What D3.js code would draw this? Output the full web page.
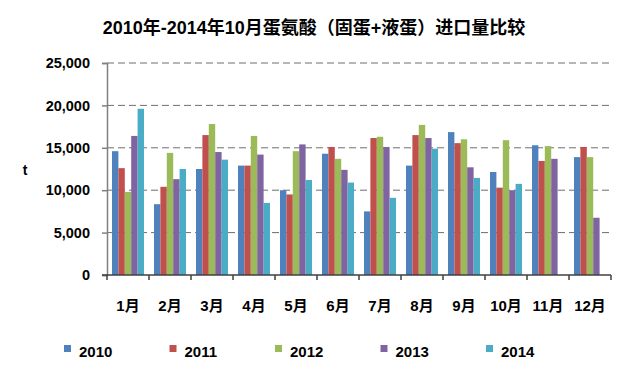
<!DOCTYPE html>
<html>
<head>
<meta charset="utf-8">
<script src="https://cdn.jsdelivr.net/npm/d3@7"></script>
<style>
  body { margin: 0; background: #fff; }
  text { font-family: "Liberation Sans", "Noto Sans CJK SC", sans-serif; font-weight: bold; fill: #000; }
</style>
</head>
<body>
<div id="chart"></div>
<script>
// 2010-2014 蛋氨酸进口量, 单位 t
var months = ["1月", "2月", "3月", "4月", "5月", "6月", "7月", "8月", "9月", "10月", "11月", "12月"];
var years = ["2010", "2011", "2012", "2013", "2014"];
var v2010 = [14600, 8350, 12500, 12900, 10000, 14300, 7500, 12900, 16850, 12150, 15300, 13900];
var v2011 = [12600, 10400, 16500, 12900, 9500, 15100, 16150, 16500, 15550, 10300, 13450, 15100];
var v2012 = [9800, 14400, 17800, 16400, 14600, 13700, 16300, 17700, 16000, 15900, 15200, 13900];
var v2013 = [16400, 11300, 14500, 14200, 15400, 12400, 15100, 16150, 12700, 10000, 13700, 6750];
var v2014 = [19600, 12500, 13600, 8500, 11200, 10900, 9100, 14900, 11450, 10750, null, null];
var colors = ["#4F81BD", "#C0504D", "#9BBB59", "#8064A2", "#4BACC6"];
var yTicks = [0, 5000, 10000, 15000, 20000, 25000];

var series = [v2010, v2011, v2012, v2013, v2014];

var width = 628, height = 374;
var margin = {top: 63, right: 17, bottom: 99, left: 107};
var chartWidth = width - margin.left - margin.right;
var chartHeight = height - margin.top - margin.bottom;

var svg = d3.select("#chart").append("svg")
  .attr("width", width)
  .attr("height", height);

svg.append("text")
  .attr("x", 314)
  .attr("y", 34)
  .attr("text-anchor", "middle")
  .attr("font-size", "18px")
  .attr("font-weight", "900")
  .attr("font-family", "'Noto Sans CJK SC', sans-serif")
  .text("2010年-2014年10月蛋氨酸（固蛋+液蛋）进口量比较");

var chartGroup = svg.append("g")
  .attr("transform", `translate(${margin.left}, ${margin.top})`);

var yScale = d3.scaleLinear()
  .domain([0, 25000])
  .range([chartHeight, 0]);

var xScale = d3.scaleBand()
  .domain(months)
  .range([0, chartWidth]);

var xInner = d3.scaleBand()
  .domain(years)
  .range([0, xScale.bandwidth()])
  .paddingOuter(0.78);

// gridlines
chartGroup.selectAll(".grid")
  .data(yTicks.filter(d => d > 0))
  .enter()
  .append("line")
  .attr("x1", 0)
  .attr("x2", chartWidth)
  .attr("y1", d => yScale(d))
  .attr("y2", d => yScale(d))
  .attr("stroke", "#6e6e6e")
  .attr("stroke-width", 1)
  .attr("stroke-dasharray", "7,4");

// bars
years.forEach(function(yr, k) {
  chartGroup.selectAll(".bar" + yr)
    .data(series[k].map((v, i) => ({m: months[i], v: v})).filter(d => d.v != null))
    .enter()
    .append("rect")
    .attr("x", d => xScale(d.m) + xInner(yr))
    .attr("y", d => yScale(d.v))
    .attr("width", xInner.bandwidth())
    .attr("height", d => chartHeight - yScale(d.v))
    .attr("fill", colors[k]);
});

var yAxis = d3.axisLeft(yScale)
  .tickValues(yTicks)
  .tickSize(5)
  .tickPadding(12)
  .tickFormat(d3.format(","));

var yAxisG = chartGroup.append("g").call(yAxis);
yAxisG.select(".domain").attr("stroke", "#808080").attr("stroke-width", 1.5);
yAxisG.selectAll(".tick line").attr("stroke", "#808080").attr("stroke-width", 1.5);
yAxisG.selectAll("text")
  .attr("font-size", "14.5px")
  .attr("font-family", "'Liberation Sans', sans-serif")
  .attr("font-weight", "bold")
  .attr("fill", "#000");

// x axis with ticks at category boundaries
var xAxisG = chartGroup.append("g")
  .attr("transform", `translate(0, ${chartHeight})`);
xAxisG.append("line")
  .attr("x1", -5)
  .attr("x2", chartWidth)
  .attr("stroke", "#404040")
  .attr("stroke-width", 1.5);
xAxisG.selectAll(".xtick")
  .data(months.concat(["end"]))
  .enter()
  .append("line")
  .attr("x1", (d, i) => i * xScale.step())
  .attr("x2", (d, i) => i * xScale.step())
  .attr("y1", 0)
  .attr("y2", 5)
  .attr("stroke", "#404040")
  .attr("stroke-width", 1.5);
xAxisG.selectAll(".xlabel")
  .data(months)
  .enter()
  .append("text")
  .attr("x", d => xScale(d) + xScale.bandwidth() / 2)
  .attr("y", 36)
  .attr("text-anchor", "middle")
  .attr("font-size", "15px")
  .attr("font-family", "'Liberation Sans', 'Noto Sans CJK SC', sans-serif")
  .text(d => d);

// unit label
svg.append("text")
  .attr("x", 25)
  .attr("y", 175)
  .attr("text-anchor", "middle")
  .attr("font-size", "14px")
  .text("t");

// legend
var legend = svg.selectAll(".legend")
  .data(years)
  .enter()
  .append("g")
  .attr("transform", (d, i) => `translate(${64 + i * 105.5}, 345)`);
legend.append("rect")
  .attr("width", 7)
  .attr("height", 7)
  .attr("fill", (d, i) => colors[i]);
legend.append("text")
  .attr("x", 15)
  .attr("y", 12)
  .attr("font-size", "15px")
  .text(d => d);
</script>
</body>
</html>
